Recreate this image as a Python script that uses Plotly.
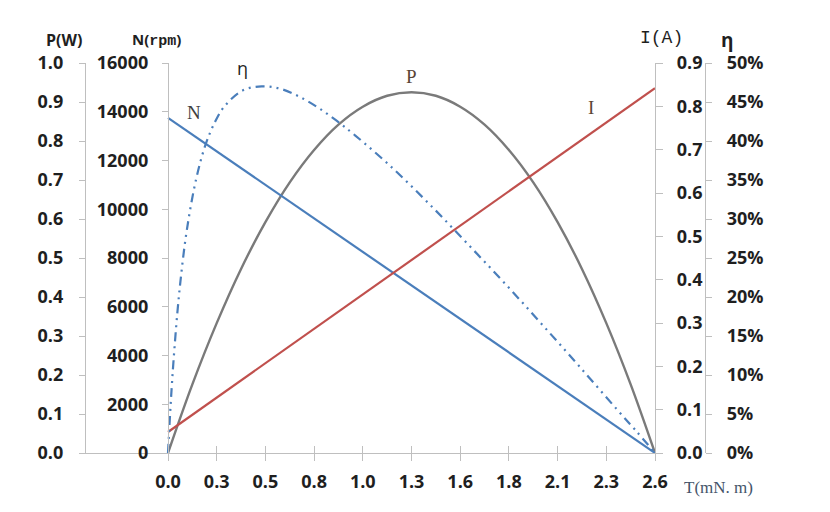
import plotly.graph_objects as go

# ---- data ----
T_line = [0.0, 2.6]
N_rpm = [13750, 0]
I_amp = [0.0485, 0.842]

T_P = [0.0, 0.13, 0.26, 0.39, 0.52, 0.65, 0.78, 0.91, 1.04, 1.17, 1.3,
       1.43, 1.56, 1.69, 1.82, 1.95, 2.08, 2.21, 2.34, 2.47, 2.6]
P_w = [0.0, 0.176, 0.333, 0.472, 0.592, 0.694, 0.777, 0.842, 0.888, 0.916, 0.925,
       0.916, 0.888, 0.842, 0.777, 0.694, 0.592, 0.472, 0.333, 0.176, 0.0]

T_eff = [0.0, 0.01, 0.02, 0.03, 0.05, 0.07, 0.1, 0.15, 0.2, 0.25, 0.3, 0.4, 0.5,
         0.6, 0.7, 0.8, 0.9, 1.0, 1.2, 1.4, 1.6, 1.8, 2.0, 2.2, 2.4, 2.5, 2.6]
eff_pct = [0.0, 4.5, 8.5, 12.0, 18.0, 22.8, 28.5, 35.1, 39.5, 42.4, 44.4, 46.5, 47.0,
           46.7, 45.7, 44.3, 42.6, 40.7, 36.5, 31.8, 26.8, 21.7, 16.4, 11.0, 5.5, 2.8, 0.0]

x_tickvals = [0.0, 0.26, 0.52, 0.78, 1.04, 1.3, 1.56, 1.82, 2.08, 2.34, 2.6]
x_ticktext = ["0.0", "0.3", "0.5", "0.8", "1.0", "1.3", "1.6", "1.8", "2.1", "2.3", "2.6"]

# ---- geometry (window pixels -> paper fractions; page body has an 8px margin) ----
OFF = 8
W, H = 830 - 2 * OFF, 512 - 2 * OFF
px = lambda v: (v - OFF) / W
py = lambda v: 1 - (v - OFF) / H
X_LEFT, X_ZERO, X_RIGHT, X_ETA = 86, 168, 655, 705
Y_TOP, Y_BOT = 63, 453
x_min = -(X_ZERO - X_LEFT) / ((X_RIGHT - X_ZERO) / 2.6)

AX = "#bfbfbf"
TICKFONT = dict(family="Open Sans", size=18, color="#1f1f1f", weight="bold")

fig = go.Figure()
fig.add_trace(go.Scatter(x=T_P, y=P_w, mode="lines", line=dict(color="#7a7a7a", width=2.4, shape="spline"),
                         xaxis="x", yaxis="y", showlegend=False))
fig.add_trace(go.Scatter(x=T_line, y=N_rpm, mode="lines", line=dict(color="#4a7ebb", width=2.2),
                         xaxis="x", yaxis="y2", showlegend=False))
fig.add_trace(go.Scatter(x=T_line, y=I_amp, mode="lines", line=dict(color="#c0504d", width=2.2),
                         xaxis="x", yaxis="y3", showlegend=False))
fig.add_trace(go.Scatter(x=T_eff, y=eff_pct, mode="lines",
                         line=dict(color="#4a7ebb", width=2.2, shape="spline", dash="9px,5px,2px,5px,2px,5px"),
                         xaxis="x", yaxis="y4", showlegend=False))
# empty trace so the overlay x-axis (inner half of cross ticks) is drawn
fig.add_trace(go.Scatter(x=[], y=[], xaxis="x2", yaxis="y", showlegend=False, hoverinfo="skip"))

ydom = [py(Y_BOT), py(Y_TOP)]
xdom = [px(X_LEFT), px(X_RIGHT)]

common_y = dict(showgrid=False, zeroline=False, showline=True, linecolor=AX, linewidth=1.3,
                ticks="outside", tickcolor=AX, tickwidth=1.3, tickfont=TICKFONT, domain=ydom,
                automargin=False)

fig.update_layout(
    template="none",
    width=W, height=H,
    margin=dict(l=0, r=0, t=0, b=0),
    paper_bgcolor="white", plot_bgcolor="white",
    xaxis=dict(domain=xdom, range=[x_min, 2.6], tickvals=x_tickvals, ticktext=x_ticktext,
               showgrid=False, zeroline=False, showline=True, linecolor=AX, linewidth=1.3,
               ticks="outside", ticklen=7, tickcolor=AX, tickwidth=1.3, tickfont=TICKFONT,
               ticklabelstandoff=5, anchor="y", automargin=False),
    xaxis2=dict(domain=xdom, range=[x_min, 2.6], tickvals=x_tickvals, overlaying="x", anchor="y",
                showgrid=False, zeroline=False, showline=False, ticks="inside", ticklen=7,
                tickcolor=AX, tickwidth=1.3, showticklabels=False, automargin=False),
    yaxis=dict(common_y, range=[0, 1.0], dtick=0.1, tickformat=".1f", anchor="x", side="left",
               ticklen=6, ticklabelstandoff=12),
    yaxis2=dict(common_y, range=[0, 16000], dtick=2000, tickformat="d", overlaying="y", anchor="free",
                position=px(X_ZERO), side="left", ticklen=6, ticklabelstandoff=10),
    yaxis3=dict(common_y, range=[0, 0.9], dtick=0.1, tickformat=".1f", overlaying="y", anchor="x",
                side="right", ticklen=7, ticklabelstandoff=10),
    yaxis4=dict(common_y, range=[0, 50], dtick=5, ticksuffix="%", overlaying="y", anchor="free",
                position=px(X_ETA), side="right", ticklen=6, ticklabelstandoff=11),
)

TITLE_FONT = dict(family="Open Sans", size=16, color="#1f1f1f", weight="bold")
SERIF = dict(family="Liberation Serif", size=19, color="#3f3f3f")

annos = [
    dict(text="P(W)", x=px(64), y=py(40), font=TITLE_FONT),
    dict(text="N(<span style='font-family:Liberation Mono'>rpm</span>)", x=px(156), y=py(40),
         font=dict(TITLE_FONT, size=15)),
    dict(text="I(A)", x=px(661), y=py(38), font=dict(family="Liberation Mono", size=18, color="#1f1f1f")),
    dict(text="η", x=px(727), y=py(40), font=dict(TITLE_FONT, size=19)),
    dict(text="T(mN. m)", x=px(718), y=py(487), font=dict(family="Liberation Serif", size=17, color="#44546a")),
    dict(text="N", x=px(194), y=py(112), font=SERIF),
    dict(text="η", x=px(243), y=py(68), font=dict(family="Open Sans", size=18, color="#1f1f1f")),
    dict(text="P", x=px(411), y=py(76), font=dict(SERIF, color="#5a4535")),
    dict(text="I", x=px(591), y=py(107), font=dict(SERIF, color="#5a4535")),
]
for a in annos:
    fig.add_annotation(xref="paper", yref="paper", showarrow=False, xanchor="center", yanchor="middle",
                       borderpad=0, **a)

fig.write_html("out.html")
